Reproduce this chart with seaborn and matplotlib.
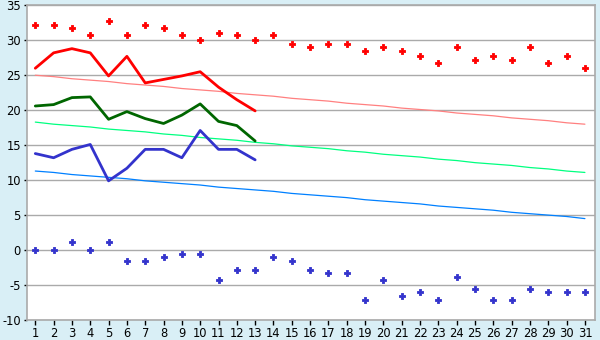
import matplotlib
matplotlib.use("Agg")
import matplotlib.pyplot as plt
import seaborn as sns
import pandas as pd
import numpy as np

days = list(range(1, 32))

record_max = [32.2, 32.2, 31.7, 30.7, 32.8, 30.7, 32.2, 31.7, 30.7, 30.0,
              31.1, 30.7, 30.0, 30.7, 29.4, 29.0, 29.4, 29.4, 28.4, 29.0,
              28.4, 27.8, 26.7, 29.0, 27.2, 27.8, 27.2, 29.0, 26.7, 27.8, 26.1]
record_min = [0.0, 0.0, 1.1, 0.0, 1.1, -1.6, -1.6, -1.0, -0.6, -0.6,
              -4.3, -2.8, -2.8, -1.0, -1.6, -2.8, -3.3, -3.3, -7.2, -4.3,
              -6.6, -6.0, -7.2, -3.9, -5.6, -7.2, -7.2, -5.6, -6.0, -6.0, -6.0]

obs_days = list(range(1, 14))
obs_max = [26.0, 28.2, 28.8, 28.2, 24.9, 27.7, 23.9, 24.4, 24.9, 25.5, 23.3, 21.5, 19.9]
obs_mean = [20.6, 20.8, 21.8, 21.9, 18.7, 19.8, 18.8, 18.1, 19.3, 20.9, 18.4, 17.8, 15.6]
obs_min = [13.8, 13.2, 14.4, 15.1, 9.9, 11.7, 14.4, 14.4, 13.2, 17.1, 14.4, 14.4, 12.9]

normal_max = [25.0, 24.8, 24.5, 24.3, 24.1, 23.8, 23.6, 23.4, 23.1, 22.9,
              22.7, 22.4, 22.2, 22.0, 21.7, 21.5, 21.3, 21.0, 20.8, 20.6,
              20.3, 20.1, 19.9, 19.6, 19.4, 19.2, 18.9, 18.7, 18.5, 18.2, 18.0]
normal_mean = [18.3, 18.0, 17.8, 17.6, 17.3, 17.1, 16.9, 16.6, 16.4, 16.1,
               15.9, 15.7, 15.4, 15.2, 14.9, 14.7, 14.5, 14.2, 14.0, 13.7,
               13.5, 13.3, 13.0, 12.8, 12.5, 12.3, 12.1, 11.8, 11.6, 11.3, 11.1]
normal_min = [11.3, 11.1, 10.8, 10.6, 10.4, 10.2, 9.9, 9.7, 9.5, 9.3,
              9.0, 8.8, 8.6, 8.4, 8.1, 7.9, 7.7, 7.5, 7.2, 7.0,
              6.8, 6.6, 6.3, 6.1, 5.9, 5.7, 5.4, 5.2, 5.0, 4.8, 4.5]

y_ticks = [-10, -5, 0, 5, 10, 15, 20, 25, 30, 35]

sns.set_theme(style="white")
plt.rcParams['font.family'] = ['DejaVu Sans']
plt.rcParams['axes.unicode_minus'] = False

bg = '#d9eff6'
fig = plt.figure(figsize=(6, 3.4), dpi=100, facecolor=bg)
ax = fig.add_axes([26.5/600, 20/340, (595 - 26.5)/600, (320 - 5.3)/340])
ax.set_facecolor('white')

df_norm = pd.DataFrame({'day': days, 'nmax': normal_max, 'nmean': normal_mean,
                        'nmin': normal_min, 'rmax': record_max, 'rmin': record_min})
df_obs = pd.DataFrame({'day': obs_days, 'omax': obs_max, 'omean': obs_mean, 'omin': obs_min})

for col, c in [('nmax', '#ff8080'), ('nmean', '#00ff80'), ('nmin', '#0080ff')]:
    sns.lineplot(data=df_norm, x='day', y=col, ax=ax, color=c, linewidth=0.9, zorder=3)
for col, c in [('omax', '#ff0000'), ('omean', '#006600'), ('omin', '#3333cc')]:
    sns.lineplot(data=df_obs, x='day', y=col, ax=ax, color=c, linewidth=2.0, zorder=4)
sns.scatterplot(data=df_norm, x='day', y='rmax', ax=ax, color='#ff0000', marker='P',
                s=22, linewidth=0.6, edgecolor='#ff0000', zorder=5)
sns.scatterplot(data=df_norm, x='day', y='rmin', ax=ax, color='#3333cc', marker='P',
                s=22, linewidth=0.6, edgecolor='#3333cc', zorder=5)

ax.set_xlim(0.52, 31.55)
ax.set_ylim(-10, 35)
ax.set_yticks(y_ticks)
ax.set_xticks(days)
ax.set_xlabel('')
ax.set_ylabel('')
ax.yaxis.grid(True, color='#aaaaaa', linewidth=1.0)
ax.set_axisbelow(True)
for s in ax.spines.values():
    s.set_color('#aaaaaa')
    s.set_linewidth(1.2)
ax.tick_params(axis='both', which='major', labelsize=8.3, colors='black',
               width=1.0, left=True, bottom=True)
ax.tick_params(axis='y', length=2.5, pad=1.5)
ax.tick_params(axis='x', length=3.6, pad=1.2)

fig.savefig('out.png', dpi=100, facecolor=bg)
